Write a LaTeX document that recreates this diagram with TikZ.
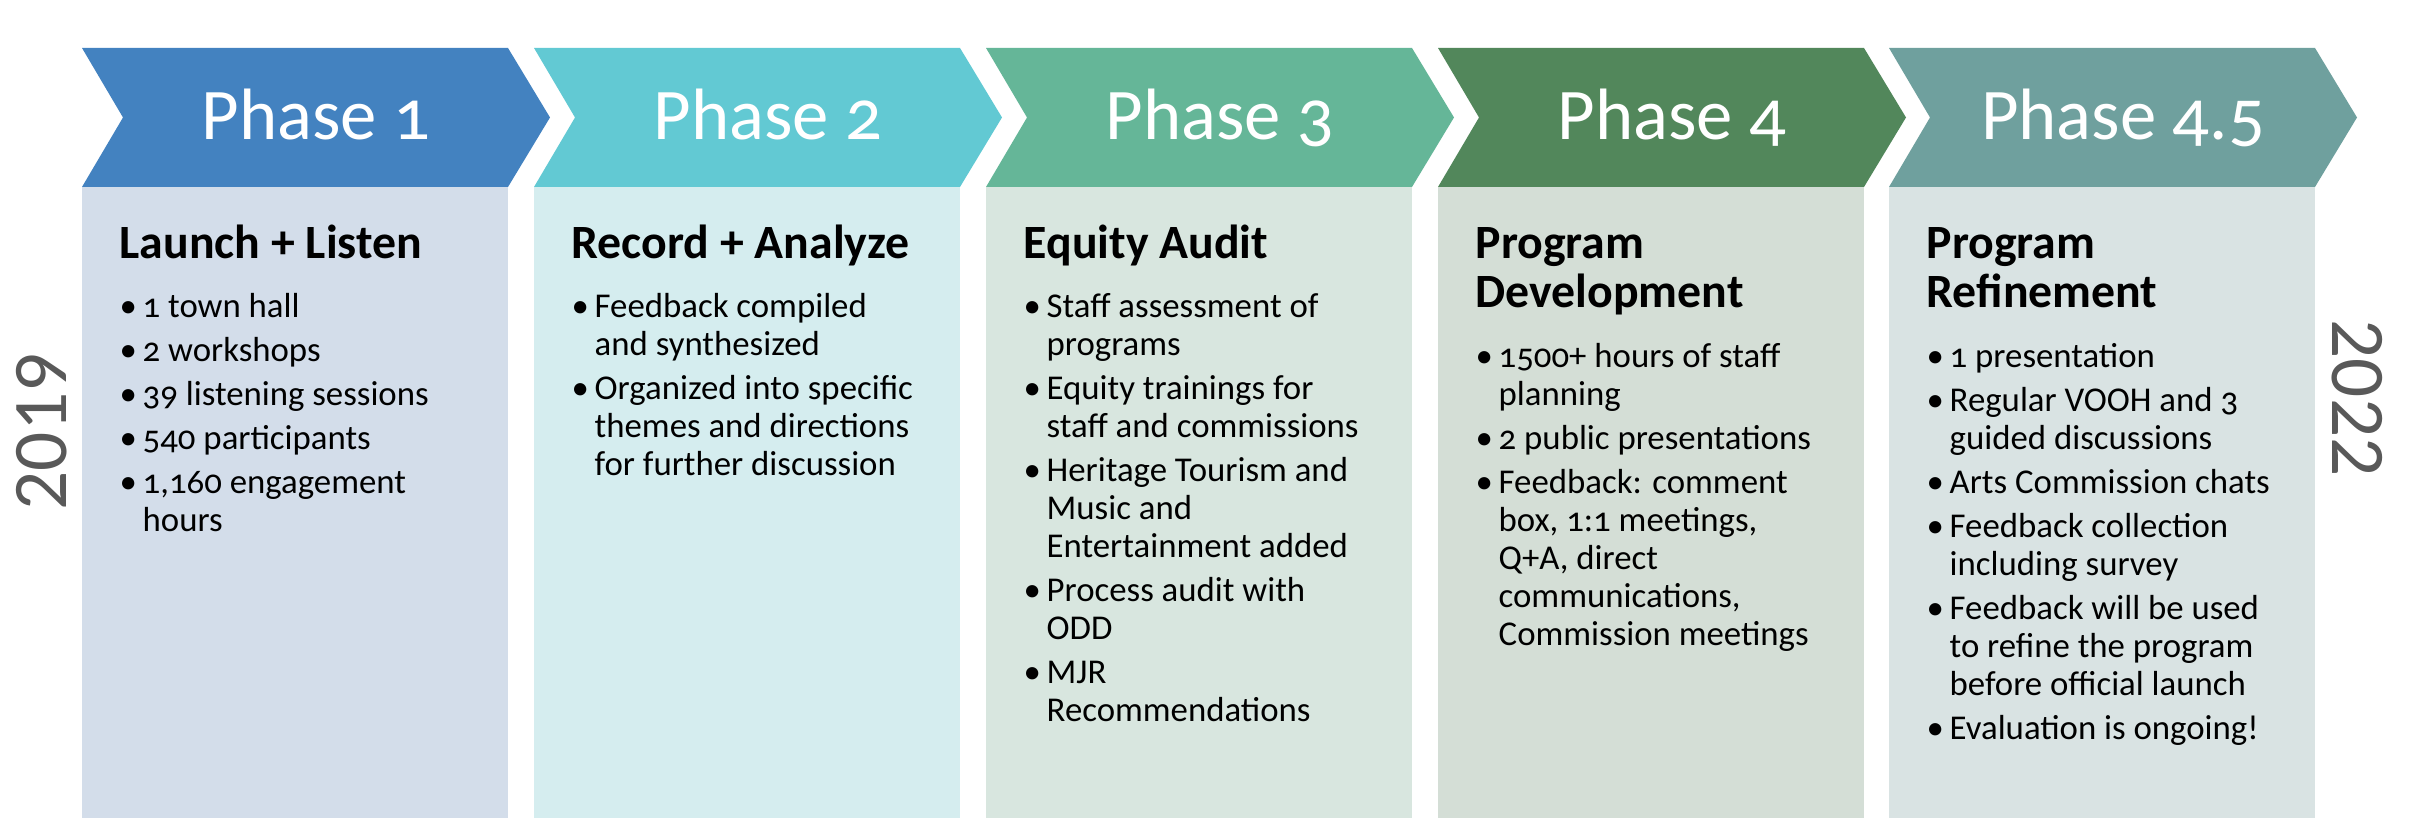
\documentclass[tikz,border=0pt]{standalone}
\usepackage{fontspec}
\setmainfont{Carlito}[Numbers=OldStyle]
\newfontfamily\yearfont{Carlito}
\usepackage{tikz}

\definecolor{headone}{HTML}{4382C0}
\definecolor{headtwo}{HTML}{62C9D3}
\definecolor{headthree}{HTML}{65B698}
\definecolor{headfour}{HTML}{52875B}
\definecolor{headfive}{HTML}{6FA09E}
\definecolor{bodyone}{HTML}{D3DDEA}
\definecolor{bodytwo}{HTML}{D5EDEF}
\definecolor{bodythree}{HTML}{D8E6DF}
\definecolor{bodyfour}{HTML}{D4DED6}
\definecolor{bodyfive}{HTML}{D9E3E3}
\definecolor{yeargray}{HTML}{595959}

\newcommand{\bul}{\makebox[0.23cm][l]{\textbullet}}

\begin{document}
\begin{tikzpicture}[
    phasetext/.style={anchor=base, inner sep=0pt, text=white, font=\fontsize{20.7}{24}\selectfont},
    titletext/.style={anchor=base west, inner sep=0pt, font=\bfseries\fontsize{13.6}{13.9}\selectfont},
    itemtext/.style={anchor=base west, inner sep=0pt, font=\fontsize{9.9}{10.8}\selectfont},
    yeartext/.style={inner sep=0pt, text=yeargray, font=\yearfont\fontsize{22}{26}\selectfont}
]
        % Fix the size of the page
        \fill[white] (0,0) rectangle (24.27,8.18);

        % Draw the five chevrons with their columns
        \fill[headone] (0.82,7.70) -- (5.08,7.70) -- (5.50,7.005) -- (5.08,6.31) -- (0.82,6.31) -- (1.23,7.005) -- cycle;
        \fill[bodyone] (0.82,6.31) rectangle (5.08,0);
        \fill[headtwo] (5.34,7.70) -- (9.60,7.70) -- (10.02,7.005) -- (9.60,6.31) -- (5.34,6.31) -- (5.75,7.005) -- cycle;
        \fill[bodytwo] (5.34,6.31) rectangle (9.60,0);
        \fill[headthree] (9.86,7.70) -- (14.12,7.70) -- (14.54,7.005) -- (14.12,6.31) -- (9.86,6.31) -- (10.27,7.005) -- cycle;
        \fill[bodythree] (9.86,6.31) rectangle (14.12,0);
        \fill[headfour] (14.38,7.70) -- (18.64,7.70) -- (19.06,7.005) -- (18.64,6.31) -- (14.38,6.31) -- (14.79,7.005) -- cycle;
        \fill[bodyfour] (14.38,6.31) rectangle (18.64,0);
        \fill[headfive] (18.89,7.70) -- (23.15,7.70) -- (23.57,7.005) -- (23.15,6.31) -- (18.89,6.31) -- (19.30,7.005) -- cycle;
        \fill[bodyfive] (18.89,6.31) rectangle (23.15,0);

        % Phase names
        \node[phasetext] (phaseone) at (3.16,6.78) {Phase 1};
        \node[phasetext] (phasetwo) at (7.68,6.78) {Phase 2};
        \node[phasetext] (phasethree) at (12.20,6.78) {Phase 3};
        \node[phasetext] (phasefour) at (16.72,6.78) {Phase 4};
        \node[phasetext] (phasefive) at (21.23,6.78) {Phase 4.5};

        % Phase 1
        \node[titletext] (launch) at (1.19,5.59) {Launch + Listen};
        \node[itemtext] (launchlist) at (1.19,5.00) {\begin{tabular}[t]{@{}l@{}l@{}}
            \bul & 1 town hall\\[1.7pt]
            \bul & 2 workshops\\[1.7pt]
            \bul & 39 listening sessions\\[1.7pt]
            \bul & 540 participants\\[1.7pt]
            \bul & 1,160 engagement\\
                 & hours
        \end{tabular}};

        % Phase 2
        \node[titletext] (record) at (5.71,5.59) {Record + Analyze};
        \node[itemtext] (recordlist) at (5.71,5.00) {\begin{tabular}[t]{@{}l@{}l@{}}
            \bul & Feedback compiled\\
                 & and synthesized\\[1.7pt]
            \bul & Organized into specific\\
                 & themes and directions\\
                 & for further discussion
        \end{tabular}};

        % Phase 3
        \node[titletext] (audit) at (10.23,5.59) {Equity Audit};
        \node[itemtext] (auditlist) at (10.23,5.00) {\begin{tabular}[t]{@{}l@{}l@{}}
            \bul & Staff assessment of\\
                 & programs\\[1.7pt]
            \bul & Equity trainings for\\
                 & staff and commissions\\[1.7pt]
            \bul & Heritage Tourism and\\
                 & Music and\\
                 & Entertainment added\\[1.7pt]
            \bul & Process audit with\\
                 & ODD\\[1.7pt]
            \bul & MJR\\
                 & Recommendations
        \end{tabular}};

        % Phase 4
        \node[titletext] (develop) at (14.75,5.59) {\begin{tabular}[t]{@{}l@{}}Program\\Development\end{tabular}};
        \node[itemtext] (developlist) at (14.75,4.50) {\begin{tabular}[t]{@{}l@{}l@{}}
            \bul & 1500+ hours of staff\\
                 & planning\\[1.7pt]
            \bul & 2 public presentations\\[1.7pt]
            \bul & Feedback: comment\\
                 & box, 1:1 meetings,\\
                 & Q+A, direct\\
                 & communications,\\
                 & Commission meetings
        \end{tabular}};

        % Phase 4.5
        \node[titletext] (refine) at (19.26,5.59) {\begin{tabular}[t]{@{}l@{}}Program\\Refinement\end{tabular}};
        \node[itemtext] (refinelist) at (19.26,4.50) {\begin{tabular}[t]{@{}l@{}l@{}}
            \bul & 1 presentation\\[1.7pt]
            \bul & Regular VOOH and 3\\
                 & guided discussions\\[1.7pt]
            \bul & Arts Commission chats\\[1.7pt]
            \bul & Feedback collection\\
                 & including survey\\[1.7pt]
            \bul & Feedback will be used\\
                 & to refine the program\\
                 & before official launch\\[1.7pt]
            \bul & Evaluation is ongoing!
        \end{tabular}};

        % Start and end years
        \node[yeartext, rotate=90] (start) at (0.42,3.86) {2019};
        \node[yeartext, rotate=-90] (finish) at (23.57,4.20) {2022};
    \end{tikzpicture}
\end{document}
